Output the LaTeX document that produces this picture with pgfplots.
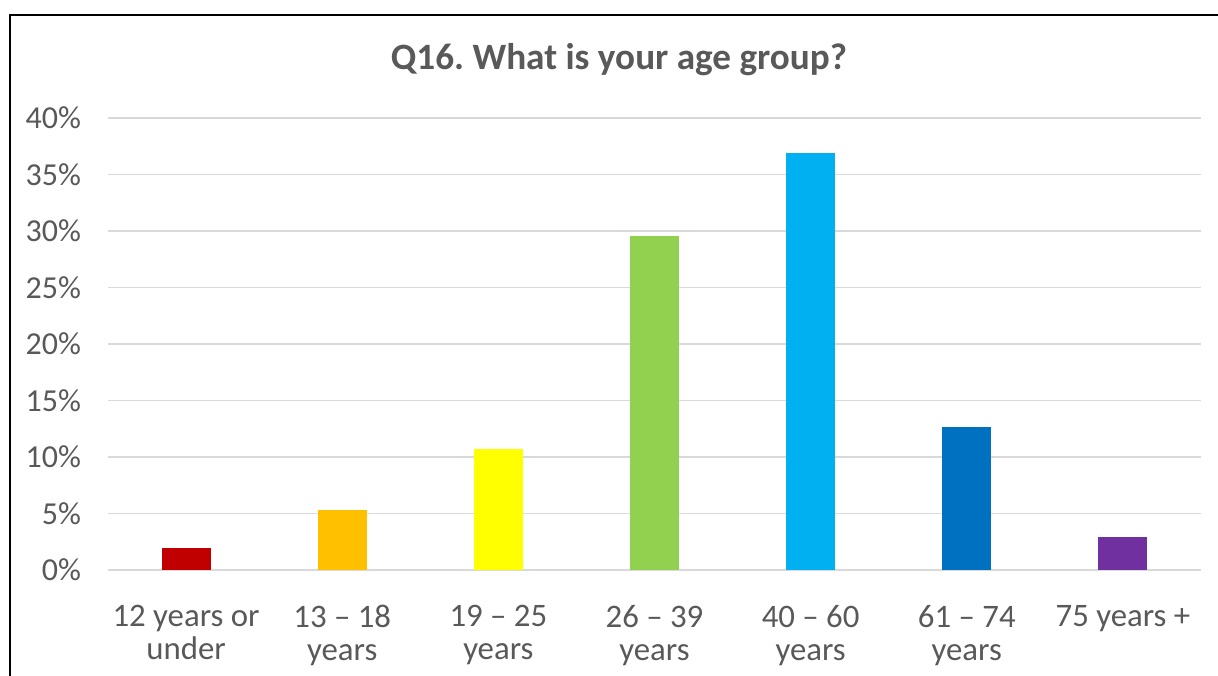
\documentclass[border=0pt]{standalone}
\usepackage{fontspec}
\setmainfont{Carlito}
\usepackage{pgfplots}
\pgfplotsset{compat=1.18}
\frenchspacing
\definecolor{txt}{HTML}{595959}
\definecolor{gridc}{HTML}{D9D9D9}
\definecolor{c1}{HTML}{C00000}
\definecolor{c2}{HTML}{FFC000}
\definecolor{c3}{HTML}{FFFF00}
\definecolor{c4}{HTML}{92D050}
\definecolor{c5}{HTML}{00B0F0}
\definecolor{c6}{HTML}{0070C0}
\definecolor{c7}{HTML}{7030A0}
\begin{document}
\begin{tikzpicture}
\useasboundingbox (0,0) rectangle (609pt,337.5pt);
\draw[line width=1.1pt,black] (5pt,-2pt) -- (5pt,330pt) -- (612pt,330pt);
\node[anchor=base,text=txt,font=\fontsize{18.6}{22}\selectfont\bfseries] at (309.5pt,302.5pt) {Q16.\ What is your age group?};
\begin{axis}[
  at={(54pt,52.5pt)}, anchor=south west,
  scale only axis, width=546.5pt, height=226pt,
  xmin=-0.5, xmax=6.5, ymin=0, ymax=40,
  ytick={0,5,...,40},
  yticklabel={\pgfmathprintnumber{\tick}\%},
  /pgf/number format/assume math mode=true,
  xtick={0,...,6},
  xticklabels={12 years or\\under, 13 – 18\\years, 19 – 25\\years, 26 – 39\\years, 40 – 60\\years, 61 – 74\\years, 75 years +},
  xticklabel style={align=center, font=\fontsize{16.4}{16.6}\selectfont, text=txt, yshift=-14pt},
  yticklabel style={font=\fontsize{16}{19}\selectfont, text=txt, xshift=-10pt},
  axis line style={draw=none},
  major tick length=0pt,
  ymajorgrids, grid style={gridc, line width=0.9pt},
  clip=false,
]
\addplot[ybar, bar width=24.5pt, draw=none, fill=c1] coordinates {(0,1.95)};
\addplot[ybar, bar width=24.5pt, draw=none, fill=c2] coordinates {(1,5.3)};
\addplot[ybar, bar width=24.5pt, draw=none, fill=c3] coordinates {(2,10.7)};
\addplot[ybar, bar width=24.5pt, draw=none, fill=c4] coordinates {(3,29.6)};
\addplot[ybar, bar width=24.5pt, draw=none, fill=c5] coordinates {(4,36.9)};
\addplot[ybar, bar width=24.5pt, draw=none, fill=c6] coordinates {(5,12.65)};
\addplot[ybar, bar width=24.5pt, draw=none, fill=c7] coordinates {(6,2.9)};
\end{axis}
\end{tikzpicture}
\end{document}
